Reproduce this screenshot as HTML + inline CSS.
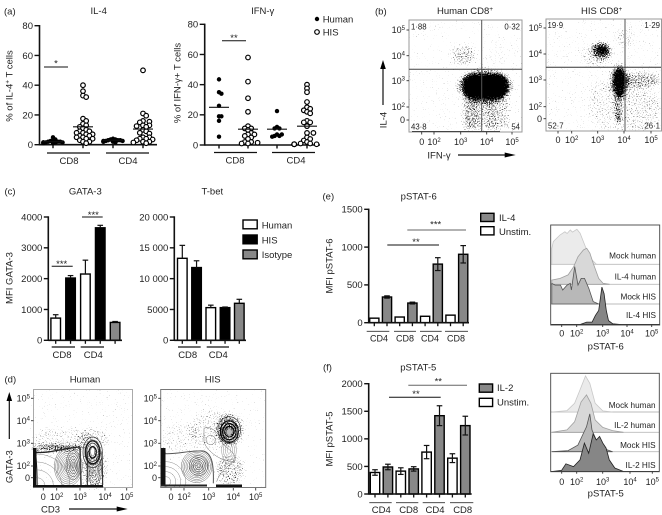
<!DOCTYPE html>
<html lang="en">
<head>
<meta charset="utf-8">
<title>IL-4, IFN-γ, GATA-3, T-bet and pSTAT analysis</title>
<style>
html,body{margin:0;padding:0;background:#fff;width:662px;height:515px;overflow:hidden}
svg{display:block}
text{font-family:"Liberation Sans",sans-serif;fill:#222}
</style>
</head>
<body>
<svg id="fig" xmlns="http://www.w3.org/2000/svg" width="662" height="515" viewBox="0 0 662 515">
<defs>
<filter id="stip" x="0" y="0" width="100%" height="100%" color-interpolation-filters="sRGB">
<feGaussianBlur in="SourceAlpha" stdDeviation="2" result="d"/>
<feTurbulence type="fractalNoise" baseFrequency="0.85" numOctaves="2" seed="7"/>
<feColorMatrix values="0 0 0 0 0 0 0 0 0 0 0 0 0 0 0 0 0 0 1 0" result="n"/>
<feComposite in="d" in2="n" operator="arithmetic" k1="0" k2="1" k3="1" k4="-0.75"/>
<feComponentTransfer><feFuncA type="linear" slope="4" intercept="0"/></feComponentTransfer>
<feGaussianBlur stdDeviation="0.3"/>
</filter>
<clipPath id="clip-d1"><rect x="33" y="389" width="100" height="99"/></clipPath>
<clipPath id="clip-d2"><rect x="160" y="389" width="106" height="99"/></clipPath>
</defs>

<!-- flow panel (b) left -->
<g>
<g filter="url(#stip)">
<rect x="409" y="20" width="113" height="112" fill="#000" fill-opacity=".004"/>
<g transform="translate(340,0) scale(.3333)">
<rect x="372" y="226" width="128" height="66" rx="28" fill-opacity=".85"/>
<ellipse cx="435" cy="258" rx="84" ry="52" fill-opacity=".32"/>
<rect x="368" y="295" width="140" height="92" fill-opacity=".19"/>
<rect x="375" y="295" width="40" height="95" fill-opacity=".1"/>
<rect x="440" y="295" width="30" height="95" fill-opacity=".08"/>
<ellipse cx="370" cy="165" rx="36" ry="30" fill-opacity=".2"/>
<ellipse cx="470" cy="170" rx="30" ry="30" fill-opacity=".06"/>
</g>
</g>
<rect x="409" y="20" width="113" height="112" fill="none" stroke="#9a9a9a" stroke-width="1"/>
<line x1="481.7" y1="20" x2="481.7" y2="132" stroke="#555" stroke-width="1"/>
<line x1="409" y1="69.3" x2="522" y2="69.3" stroke="#444" stroke-width="1"/>
<line x1="412" y1="131.5" x2="500" y2="131.5" stroke="#444" stroke-width="1"/>
</g>

<!-- flow panel (b) right -->
<g>
<g filter="url(#stip)">
<rect x="546" y="19" width="116" height="112" fill="#000" fill-opacity=".02"/>
<g transform="translate(340,0) scale(.3333)">
<ellipse cx="838" cy="245" rx="18" ry="42" fill-opacity=".6"/>
<ellipse cx="838" cy="245" rx="30" ry="54" fill-opacity=".24"/>
<ellipse cx="835" cy="325" rx="9" ry="50" fill-opacity=".26"/>
<ellipse cx="833" cy="358" rx="6" ry="20" fill-opacity=".3"/>
<ellipse cx="785" cy="150" rx="16" ry="13" fill-opacity=".45"/>
<ellipse cx="785" cy="152" rx="30" ry="26" fill-opacity=".3"/>
<ellipse cx="770" cy="165" rx="45" ry="36" fill-opacity=".13"/>
<ellipse cx="855" cy="115" rx="28" ry="28" fill-opacity=".13"/>
<ellipse cx="905" cy="240" rx="58" ry="24" fill-opacity=".24"/>
<ellipse cx="890" cy="320" rx="72" ry="62" fill-opacity=".12"/>
<ellipse cx="785" cy="310" rx="40" ry="70" fill-opacity=".1"/>
<rect x="790" y="382" width="130" height="8" fill-opacity=".2"/>
</g>
</g>
<rect x="546" y="19" width="115.5" height="112" fill="none" stroke="#9a9a9a" stroke-width="1"/>
<line x1="625" y1="19" x2="625" y2="131" stroke="#555" stroke-width="1"/>
<line x1="546" y1="67.3" x2="661" y2="67.3" stroke="#333" stroke-width="1"/>
</g>

<!-- contour panel (d) left -->
<g>
<g filter="url(#stip)">
<rect x="33" y="389" width="100" height="99" fill="#000" fill-opacity=".003"/>
<g transform="translate(0,335) scale(.3333)">
<ellipse cx="190" cy="312" rx="90" ry="36" fill-opacity=".11"/>
<ellipse cx="280" cy="312" rx="48" ry="34" fill-opacity=".14"/>
<ellipse cx="170" cy="340" rx="80" ry="13" fill-opacity=".3"/>
<ellipse cx="282" cy="400" rx="38" ry="64" fill-opacity=".22"/>
</g>
</g>
<g clip-path="url(#clip-d1)"><g id="contours-d1" transform="translate(0,335) scale(.3333)" fill="none" stroke="#333">
<path d="M108,352 C150,356 195,338 240,336" stroke="#222" stroke-width="4"/>
<path d="M240,336 L243,450" stroke="#333" stroke-width="4.5"/>
<path d="M262,350 L262,450 M306,350 L308,450" stroke="#333" stroke-width="3.5"/>
<path d="M108,358 C110,380 112,420 112,450" stroke="#222" stroke-width="2"/>
</g></g>
<rect x="33.5" y="389.5" width="99" height="98" fill="none" stroke="#aaa" stroke-width="1"/>
<rect x="33" y="448" width="3.5" height="38" fill="#111"/>
<rect x="33" y="485" width="70" height="2.4" fill="#111"/>
</g>

<!-- contour panel (d) right -->
<g>
<g filter="url(#stip)">
<rect x="160" y="389" width="106" height="99" fill="#000" fill-opacity=".003"/>
<g transform="translate(0,335) scale(.3333)">
<ellipse cx="640" cy="285" rx="70" ry="60" fill-opacity=".12"/>
<ellipse cx="540" cy="310" rx="55" ry="45" fill-opacity=".1"/>
<ellipse cx="690" cy="405" rx="42" ry="48" fill-opacity=".2"/>
<ellipse cx="690" cy="285" rx="42" ry="50" fill-opacity=".24"/>
</g>
</g>
<g clip-path="url(#clip-d2)"><g id="contours-d2" transform="translate(0,335) scale(.3333)" fill="none" stroke="#444">
<path d="M495,356 C530,358 570,346 610,348 C635,355 642,385 640,445" stroke="#555" stroke-width="3"/>
<path d="M612,280 C630,270 655,290 665,320 C680,345 710,350 705,378 C670,385 620,350 612,320 Z" stroke="#666" stroke-width="1.5"/>
<ellipse cx="632" cy="315" rx="14" ry="14" stroke="#666" stroke-width="1.5"/>
<path d="M650,440 C660,410 680,395 705,378" stroke="#666" stroke-width="1.5"/>
</g></g>
<rect x="160.7" y="389.5" width="105" height="98" fill="none" stroke="#777" stroke-width="1"/>
<rect x="161" y="448" width="4.5" height="38" fill="#111"/>
<rect x="161" y="484.5" width="46" height="2" fill="#222"/>
<rect x="216" y="484.5" width="26" height="2.6" fill="#111"/>
</g>
</svg>

<script>
// ---- panel (a) IL-4 values (% of IL-4+ T cells)
const il4HumanCD8 = [5, 3.5, 3, 2.5, 2, 2, 2, 1.5, 1.5, 1.5, 1.5, 1.5, 1.5, 1, 1, 1];
const il4HisCD8 = [40, 36, 33, 32, 17.5, 16, 14, 13, 12, 11, 10, 9, 9, 8, 8, 7, 7, 6, 6, 5, 5, 4, 4, 3, 2, 2, 1];
const il4HumanCD4 = [4, 3.5, 3.5, 3, 3, 3, 2.5, 2.5, 2.5, 2, 2, 2, 1.5];
const il4HisCD4 = [50, 21, 19.5, 16, 15.5, 15, 13, 13, 12.5, 12, 10, 9, 8, 7.5, 5, 5, 4, 4, 3.5, 3, 2, 2, 1.5, 1];
const il4Means = [2, 12, 3, 10.5];
// ---- panel (a) IFN-gamma values
const ifnHumanCD8 = [43.5, 35, 34, 26, 19, 19, 16, 5.5];
const ifnHisCD8 = [58, 42, 31, 22, 12.5, 11, 11, 10, 8, 7, 7, 6, 5, 4, 2, 2, 1.5, 1, 1];
const ifnHumanCD4 = [22.5, 12, 11, 11, 7, 7, 6, 6, 5.5];
const ifnHisCD4 = [40, 37.5, 35, 28.5, 25, 24, 23, 22, 21, 16, 15, 15, 12.5, 8, 8, 5, 4, 3, 2, 1, 1, 0.5, 0.5, 0.5, 0.5, 0.5, 0.5];
const ifnMeans = [25, 10.5, 10.5, 12.5];
const percentTicks = [0, 20, 40, 60, 80];
// ---- panel (c)
const gataValues = [720, 2020, 2150, 3650, 580];
const gataErrors = [110, 80, 450, 80, 30];
const gataTicks = [0, 1000, 2000, 3000, 4000];
const tbetValues = [13300, 11800, 5300, 5300, 6000];
const tbetErrors = [2100, 1100, 400, 100, 650];
const tbetTicks = [0, 5000, 10000, 15000, 20000];
const tbetTickLabels = ['0', '5000', '10 000', '15 000', '20 000'];
const cFills = ['#fff', '#000', '#fff', '#000', '#888'];
// ---- panel (e)
const stat6Values = [60, 340, 75, 260, 85, 775, 100, 905];
const stat6Errors = [0, 15, 0, 12, 0, 85, 0, 115];
const stat6Ticks = [0, 500, 1000, 1500];
// ---- panel (f)
const stat5Values = [390, 490, 415, 455, 760, 1420, 650, 1240];
const stat5Errors = [50, 50, 60, 40, 120, 180, 80, 170];
const stat5Ticks = [0, 500, 1000, 1500, 2000];
const pairGroups = ['CD4', 'CD8', 'CD4', 'CD8'];
// ---- histograms: [channel 0-100, relative count 0-100]
const histE1 = [[1,0],[1,45],[2.4,65],[8.6,84],[13,93],[15,88],[18,98],[20,92],[24,100],[27,89],[30,65],[33,41],[38,12],[42,0]];
const histE2 = [[1,0],[1,12],[8.6,17],[16,27],[21,50],[25,79],[30,98],[33,103],[36,89],[39,60],[44,17],[48,3],[54,0]];
const histE3 = [[1,0],[1,59],[4,54],[9,54],[11,40],[15,54],[18,59],[19,40],[22,107],[25,54],[28,73],[31,73],[35,44],[39,7],[44,0]];
const histE4 = [[27,0],[33,7],[38,7],[41,26],[44,40],[47,107],[49,88],[51,40],[53,11],[57,2],[64,0]];
const histF1 = [[1,0],[15,4],[22,25],[27,63],[32,103],[36,82],[41,25],[48,3],[57,0]];
const histF2 = [[1,0],[15,7],[22,30],[28,87],[33,107],[37,83],[41,35],[48,14],[57,5],[67,0]];
const histF3 = [[1,0],[16,3],[25,19],[30,52],[33,71],[36,108],[38,62],[42,33],[48,10],[57,0]];
const histF4 = [[1,0],[10,3],[14,22],[21,14],[27,33],[31,81],[35,52],[39,107],[42,90],[45,100],[48,81],[51,67],[54,33],[59,10],[67,0]];

const NS = 'http://www.w3.org/2000/svg';
const fig = document.getElementById('fig');
function mk(tag, attrs, name, parent) {
  const el = document.createElementNS(NS, tag);
  for (const k in attrs) el.setAttribute(k, attrs[k]);
  
  
  (parent || fig).appendChild(el);
  return el;
}
function txt(s, x, cy, name, opt) {
  opt = opt || {};
  const size = opt.size || 9.5;
  const base = cy + size * 0.35;
  const a = {x: x, y: base, 'font-size': size, 'text-anchor': opt.anchor || 'middle'};
  if (opt.rot) { a.transform = 'rotate(-90 ' + x + ' ' + cy + ')'; }
  const el = mk('text', a, name, opt.parent);
  el.textContent = s;
  return el;
}
function line(x1, y1, x2, y2, name, w, col) {
  return mk('line', {x1: x1, y1: y1, x2: x2, y2: y2, stroke: col || '#111', 'stroke-width': w || 1.4}, name);
}
function pow(x, cy, exp, name, anchor) {
  const t = txt('', x, cy, name, {size: 9, anchor: anchor || 'middle'});
  if (exp === null) { t.textContent = '0'; return; }
  const a = document.createElementNS(NS, 'tspan'); a.textContent = '10'; t.appendChild(a);
  const b = document.createElementNS(NS, 'tspan'); b.textContent = exp;
  b.setAttribute('dy', '-3.2'); b.setAttribute('font-size', '6'); t.appendChild(b);
}

// titles and panel letters
[['(a)',4,11],['(b)',375,11],['(c)',4.5,191],['(d)',4.5,379],['(e)',322.5,196],['(f)',323,367]].forEach(p => {
  txt(p[0], p[1], p[2], 'panel-label', {anchor: 'start'});
});
[['IL-4',98.7,10.5],['IFN-γ',262.7,10.5],['GATA-3',85.3,191],['T-bet',212.3,191],['Human',85,379],['HIS',212.7,379],['pSTAT-6',418.7,196],['pSTAT-5',418.3,367]].forEach(p => {
  txt(p[0], p[1], p[2], 'chart-title');
});
function supTitle(x, label) {
  const t = txt('', x, 10.5, 'chart-title');
  const a = document.createElementNS(NS, 'tspan'); a.textContent = label; t.appendChild(a);
  const b = document.createElementNS(NS, 'tspan'); b.textContent = '+';
  b.setAttribute('dy', '-3'); b.setAttribute('font-size', '6.5'); t.appendChild(b);
}
supTitle(465, 'Human CD8');
supTitle(601.7, 'HIS CD8');

// ---------- axes helper
function yAxis(x, yFn, ticks, labels, name, tickLen) {
  line(x, yFn(ticks[ticks.length - 1]) - 0.7, x, yFn(0) + 0.7, name + '-y-axis', 1.6);
  ticks.forEach((t, i) => {
    line(x - (tickLen || 4.5), yFn(t), x, yFn(t), name + '-y-tick', 1.4);
    txt(labels ? labels[i] : String(t), x - (tickLen || 4.5) - 1.5, yFn(t), name + '-y-tick-label', {anchor: 'end'});
  });
}

// ---------- dot plots
function swarm(values, cx, yFn, step, minDist, draw) {
  const placed = [];
  values.forEach(v => {
    const y = yFn(v);
    let k = 0, x = cx;
    for (;;) {
      const off = k === 0 ? 0 : (k % 2 ? 1 : -1) * Math.ceil(k / 2) * step;
      x = cx + off;
      if (!placed.some(p => Math.hypot(p[0] - x, p[1] - y) < minDist)) break;
      k++;
      if (k > 8) break;
    }
    placed.push([x, y]);
    draw(x, y);
  });
}
function dotPanel(name, yFn, axisX, xEnd, centers, series, means, meanHalf) {
  yAxis(axisX, yFn, percentTicks, null, name, 5);
  line(axisX, yFn(0), xEnd, yFn(0), name + '-x-axis', 1.6);
  centers.forEach(c => line(c, yFn(0), c, yFn(0) + 3.5, name + '-x-tick', 1.4));
  series.forEach((vals, i) => {
    const human = i % 2 === 0;
    swarm(vals, centers[i], yFn, human ? 2.4 : 3.2, human ? 2.4 : 3.4, (x, y) => {
      if (human) {
        mk('circle', {cx: x, cy: y, r: 2.2, fill: '#000'}, 'human-point');
      } else {
        mk('circle', {cx: x, cy: y, r: 2.3, fill: '#fff', stroke: '#000', 'stroke-width': 1.2}, 'his-point');
      }
    });
    line(centers[i] - meanHalf, yFn(means[i]), centers[i] + meanHalf, yFn(means[i]), name + '-mean-line', 1.1);
  });
}
const yIl4 = v => 144.7 - v * (119 / 80);
const yIfn = v => 145 - v * (120.7 / 80);
dotPanel('il4', yIl4, 39.5, 157, [53, 83, 113, 143], [il4HumanCD8, il4HisCD8, il4HumanCD4, il4HisCD4], il4Means, 10);
dotPanel('ifn', yIfn, 204.7, 320, [219, 248, 277, 307], [ifnHumanCD8, ifnHisCD8, ifnHumanCD4, ifnHisCD4], ifnMeans, 10);
line(47, 153, 90, 153, 'cd8-group-line', 1.3); line(106, 153, 149, 153, 'cd4-group-line', 1.3);
line(214, 152.5, 257, 152.5, 'cd8-group-line', 1.3); line(272, 152.5, 315, 152.5, 'cd4-group-line', 1.3);
txt('CD8', 69, 160.5, 'group-label'); txt('CD4', 128, 160.5, 'group-label');
txt('CD8', 235, 160, 'group-label'); txt('CD4', 296, 160, 'group-label');
(function(){
  const t = txt('% of IL-4', 9, 86, 'y-axis-title', {rot: true});
  const b = document.createElementNS(NS, 'tspan'); b.textContent = '+'; b.setAttribute('dy', '-3'); b.setAttribute('font-size', '6.5'); t.appendChild(b);
  const c = document.createElementNS(NS, 'tspan'); c.textContent = ' T cells'; c.setAttribute('dy', '3'); t.appendChild(c);
})();
txt('% of IFN-γ+ T cells', 177, 83, 'y-axis-title', {rot: true});
line(44, 67, 68, 67, 'significance-line', 1);
txt('*', 56, 63, 'significance-star', {size: 9.5});
line(222, 40.7, 246, 40.7, 'significance-line', 1);
txt('**', 234, 37.5, 'significance-star', {size: 9.5});
mk('circle', {cx: 317, cy: 19, r: 2.2, fill: '#000'}, 'legend-human-dot');
txt('Human', 322.7, 19, 'legend-human-label', {anchor: 'start'});
mk('circle', {cx: 317, cy: 32, r: 2.3, fill: '#fff', stroke: '#000', 'stroke-width': 1.2}, 'legend-his-dot');
txt('HIS', 322.7, 32, 'legend-his-label', {anchor: 'start'});

// ---------- bar panels
function bars(name, yFn, centers, values, errors, fills, width, both) {
  values.forEach((v, i) => {
    const c = centers[i];
    const top = yFn(v + errors[i]);
    mk('rect', {x: c - width / 2, y: yFn(v), width: width, height: yFn(0) - yFn(v), fill: fills[i], stroke: '#000', 'stroke-width': 1.4}, name + '-bar');
    if (errors[i] > 0) {
      line(c, both ? yFn(v - errors[i]) : yFn(v), c, top, name + '-error-bar', 1.2);
      line(c - 2.8, top, c + 2.8, top, name + '-error-cap', 1.2);
      if (both) line(c - 2.8, yFn(v - errors[i]), c + 2.8, yFn(v - errors[i]), name + '-error-cap', 1.2);
    }
    line(c, yFn(0), c, yFn(0) + 3.5, name + '-x-tick', 1.3);
  });
}
const yGata = v => 340.3 - v * (123.3 / 4000);
const yTbet = v => 340.3 - v * (123.3 / 20000);
const gataCenters = cFills.map((_, i) => 55.7 + i * 14.85);
const tbetCenters = cFills.map((_, i) => 182.3 + i * 14.25);
bars('gata3', yGata, gataCenters, gataValues, gataErrors, cFills, 9.6);
bars('tbet', yTbet, tbetCenters, tbetValues, tbetErrors, cFills, 9.6);
yAxis(48.3, yGata, gataTicks, null, 'gata3');
line(48.3, yGata(0), 122, yGata(0), 'gata3-x-axis', 1.6);
yAxis(174.3, yTbet, tbetTicks, tbetTickLabels, 'tbet');
line(174.3, yTbet(0), 246, yTbet(0), 'tbet-x-axis', 1.6);
line(51.7, 347, 75, 347, 'cd8-group-line', 1.2); line(80.7, 347, 104, 347, 'cd4-group-line', 1.2);
line(178, 347, 200.7, 347, 'cd8-group-line', 1.2); line(206.7, 347, 229, 347, 'cd4-group-line', 1.2);
txt('CD8', 62, 354.5, 'group-label'); txt('CD4', 93.3, 354.5, 'group-label');
txt('CD8', 187.7, 354.5, 'group-label'); txt('CD4', 218.3, 354.5, 'group-label');
txt('MFI GATA-3', 9.3, 278, 'y-axis-title', {rot: true});
line(51.7, 266.3, 72.7, 266.3, 'significance-line', 1); txt('***', 61.7, 263.5, 'significance-star');
line(82, 217, 102.7, 217, 'significance-line', 1); txt('***', 93.3, 214.5, 'significance-star');
[['Human', 220, '#fff', 225], ['HIS', 235, '#000', 240], ['Isotype', 250, '#888', 254.7]].forEach(l => {
  mk('rect', {x: 243, y: l[1], width: 14.2, height: 8.8, fill: l[2], stroke: '#000', 'stroke-width': 1.4}, 'legend-swatch');
  txt(l[0], 261.7, l[3], 'legend-label', {anchor: 'start'});
});

const pairFills = ['#fff', '#888', '#fff', '#888', '#fff', '#888', '#fff', '#888'];
const y6 = v => 322.7 - v * (113.4 / 1500);
const y5 = v => 494 - v * (110.3 / 2000);
bars('pstat6', y6, stat6Values.map((_, i) => 374.3 + i * 12.7), stat6Values, stat6Errors, pairFills, 9.2, true);
bars('pstat5', y5, stat5Values.map((_, i) => 375 + i * 12.9), stat5Values, stat5Errors, pairFills, 9.4, true);
yAxis(368.7, y6, stat6Ticks, null, 'pstat6');
line(368.7, y6(0), 469, y6(0), 'pstat6-x-axis', 1.6);
yAxis(368.7, y5, stat5Ticks, null, 'pstat5');
line(368.7, y5(0), 471.7, y5(0), 'pstat5-x-axis', 1.6);
[[366.7, 389.3, 379], [394, 416, 405], [420, 441.7, 430], [445, 468, 456]].forEach((g, i) => {
  line(g[0], 331.3, g[1], 331.3, 'pstat6-group-line', 0.9, '#333');
  txt(pairGroups[i], g[2], 338.5, 'group-label', {size: 9});
});
[[369.3, 391.7, 381.3], [396, 418.3, 408.7], [422.7, 445, 435], [450, 473.3, 462.7]].forEach((g, i) => {
  line(g[0], 502.7, g[1], 502.7, 'pstat5-group-line', 0.9, '#333');
  txt(pairGroups[i], g[2], 509.5, 'group-label');
});
txt('MFI pSTAT-6', 329.3, 266, 'y-axis-title', {rot: true});
txt('MFI pSTAT-5', 329.3, 439, 'y-axis-title', {rot: true});
line(387.3, 245, 439, 245, 'significance-line', 1); txt('**', 416, 241.5, 'significance-star');
line(407.3, 230, 466, 230, 'significance-line', 1, '#666'); txt('***', 435.7, 224, 'significance-star');
line(389, 397.3, 440.7, 397.3, 'significance-line', 1); txt('**', 416, 393.5, 'significance-star');
line(408.3, 385.3, 467, 385.3, 'significance-line', 1, '#666'); txt('**', 438.3, 381, 'significance-star');
[[480.7, 213.3, '#888', 'IL-4', 499, 217.7], [480.7, 226.7, '#fff', 'Unstim.', 499, 231.7],
 [479.3, 384, '#888', 'IL-2', 497, 387.7], [479.3, 398.3, '#fff', 'Unstim.', 497, 402.3]].forEach(l => {
  mk('rect', {x: l[0], y: l[1], width: 13.3, height: 8.2, fill: l[2], stroke: '#000', 'stroke-width': 1.4}, 'legend-swatch');
  txt(l[3], l[4], l[5], 'legend-label', {anchor: 'start'});
});

// ---------- histograms
function histogram(name, left, right, rows, labels, fills, strokes) {
  const xFn = c => left + c * (right - left) / 100;
  rows.forEach((r, i) => {
    const yFn = n => r.base - n * 0.35;
    const pts = r.data.map(p => xFn(p[0]).toFixed(1) + ',' + yFn(p[1]).toFixed(1)).join(' ');
    line(left, r.base, right, r.base, name + '-row-baseline', 0.9, i === 3 ? '#333' : '#bbb');
    mk('polygon', {points: pts, fill: fills[i], stroke: strokes[i], 'stroke-width': 0.8}, name + '-histogram');
    txt(labels[i], right - 3.7, r.label, name + '-row-label', {anchor: 'end', size: 8.2});
  });
}
histogram('pstat6', 550.7, 659.7, [
  {data: histE1, base: 264.3, label: 255.7}, {data: histE2, base: 284.3, label: 276.7},
  {data: histE3, base: 304, label: 296.7}, {data: histE4, base: 324.5, label: 315.3}],
  ['Mock human', 'IL-4 human', 'Mock HIS', 'IL-4 HIS'], ['#ebebeb', '#d8d8d8', '#b8b8b8', '#868686'], ['#c8c8c8', '#a0a0a0', '#555', '#222']);
histogram('pstat5', 550.7, 659.3, [
  {data: histF1, base: 412, label: 405}, {data: histF2, base: 432.3, label: 425.3},
  {data: histF3, base: 451.7, label: 445.3}, {data: histF4, base: 471.5, label: 465.3}],
  ['Mock human', 'IL-2 human', 'Mock HIS', 'IL-2 HIS'], ['#ebebeb', '#d8d8d8', '#b8b8b8', '#868686'], ['#c8c8c8', '#a0a0a0', '#555', '#222']);
mk('rect', {x: 550.7, y: 225, width: 109, height: 100, fill: 'none', stroke: '#444', 'stroke-width': 0.9}, 'pstat6-histogram-frame');
mk('rect', {x: 550.7, y: 373.3, width: 108.6, height: 98.4, fill: 'none', stroke: '#444', 'stroke-width': 0.9}, 'pstat5-histogram-frame');

// ---------- flow axes labels
function flowAxes(name, xs, ys, xCy, yRight, left, bottom) {
  const exps = [null, 2, 3, 4, 5];
  exps.forEach((e, i) => {
    pow(xs[i], xCy, e, name + '-x-tick-label');
    line(xs[i], bottom, xs[i], bottom + 2.5, name + '-x-tick', 0.9, '#333');
  });
  [5, 4, 3, 2, null].forEach((e, i) => {
    pow(yRight, ys[i], e, name + '-y-tick-label', 'end');
    line(left - 2.5, ys[i], left, ys[i], name + '-y-tick', 0.9, '#333');
  });
}
flowAxes('human-cd8', [421.7, 434, 460.7, 486.7, 512], [30, 55.7, 80.7, 107, 120], 142, 405, 409, 132);
flowAxes('his-cd8', [558, 571.7, 597.7, 624, 651], [28, 54, 80, 106.7, 118.7], 140, 542, 546, 131);
flowAxes('d-human', [43.3, 56.7, 80, 105, 126.7], [398.3, 420.7, 443.3, 466, 477.7], 497, 30, 33.5, 488);
flowAxes('d-his', [171, 184, 208.7, 233.3, 255.7], [398.3, 420.7, 443.3, 466, 477.7], 497, 157, 160.7, 488);
const labels6 = [null, 2, 3, 4, 5];
[561.7, 576.7, 602.7, 627, 651.7].forEach((x, i) => pow(x, 333.5, labels6[i], 'pstat6-x-tick-label'));
[561.7, 576.7, 602.7, 630, 652.3].forEach((x, i) => pow(x, 481.7, labels6[i], 'pstat5-x-tick-label'));
[561.7, 576.7, 602.7, 627, 651.7].forEach(x => line(x, 325, x, 327, 'pstat6-x-tick', 0.9, '#333'));
[561.7, 576.7, 602.7, 630, 652.3].forEach(x => line(x, 471.7, x, 473.7, 'pstat5-x-tick', 0.9, '#333'));
txt('pSTAT-6', 605.7, 346, 'histogram-x-title');
txt('pSTAT-5', 605.7, 493.3, 'histogram-x-title');

// quadrant labels
[['1·88', 411, 26.7, 'start'], ['0·32', 520, 26.7, 'end'], ['43·8', 411, 127, 'start'], ['54', 520, 127, 'end'],
 ['19·9', 547.5, 25.5, 'start'], ['1·29', 660, 25.5, 'end'], ['52·7', 548, 126, 'start'], ['26·1', 660, 126, 'end']].forEach(q => {
  txt(q[0], q[1], q[2], 'quadrant-percentage', {size: 7.8, anchor: q[3]});
});

// arrows
function arrowH(x1, x2, y, name) {
  line(x1, y, x2 - 8, y, name, 1.2);
  mk('polygon', {points: (x2 - 11) + ',' + (y - 2.5) + ' ' + x2 + ',' + y + ' ' + (x2 - 11) + ',' + (y + 2.5)}, name + '-head');
}
function arrowV(x, y1, y2, name) {
  line(x, y1, x, y2 + 6, name, 1.2);
  mk('polygon', {points: (x - 2.8) + ',' + (y2 + 9) + ' ' + x + ',' + y2 + ' ' + (x + 2.8) + ',' + (y2 + 9)}, name + '-head');
}
arrowV(383, 105, 60, 'il4-axis-arrow');
txt('IL-4', 383, 120, 'y-axis-title', {rot: true});
txt('IFN-γ', 439, 155, 'x-axis-title');
arrowH(458, 515.7, 155, 'ifn-axis-arrow');
txt('CD3', 50.5, 509, 'x-axis-title');
arrowH(69, 127.7, 509, 'cd3-axis-arrow');
txt('GATA-3', 9.3, 466.7, 'y-axis-title', {rot: true});
arrowV(9.3, 439, 392, 'gata3-axis-arrow');

// ---------- contour rings (panel d)
function rings(group, cx, cy, rx, ry, n, col, w) {
  const g = document.getElementById(group);
  for (let i = 1; i <= n; i++) {
    mk('ellipse', {cx: cx, cy: cy, rx: rx * i / n, ry: ry * i / n, fill: 'none', stroke: col, 'stroke-width': w}, 'density-contour', g);
  }
}
rings('contours-d1', 205, 395, 42, 58, 10, '#666', 1.4);
rings('contours-d1', 220, 390, 22, 44, 5, '#444', 1.4);
rings('contours-d1', 110, 452, 100, 95, 4, '#777', 1.3);
rings('contours-d1', 278, 352, 29, 46, 5, '#333', 2.2);
rings('contours-d1', 284, 405, 20, 50, 5, '#555', 1.4);
rings('contours-d1', 278, 352, 21, 34, 2, '#111', 3.2);
mk('ellipse', {cx: 278, cy: 350, rx: 6, ry: 13, fill: '#fff', stroke: '#555', 'stroke-width': 1.4}, 'density-contour-core', document.getElementById('contours-d1'));
rings('contours-d2', 590, 395, 46, 48, 10, '#666', 1.4);
rings('contours-d2', 596, 392, 28, 30, 5, '#444', 1.5);
rings('contours-d2', 497, 440, 60, 60, 4, '#777', 1.3);
rings('contours-d2', 688, 285, 34, 40, 4, '#333', 1.8);
rings('contours-d2', 688, 290, 27, 32, 4, '#000', 3.2);
mk('ellipse', {cx: 688, cy: 291, rx: 9, ry: 10, fill: '#bbb', stroke: '#333', 'stroke-width': 1.4}, 'density-contour-core', document.getElementById('contours-d2'));
rings('contours-d2', 687, 345, 22, 40, 4, '#777', 1.2);
</script>
</body>
</html>
